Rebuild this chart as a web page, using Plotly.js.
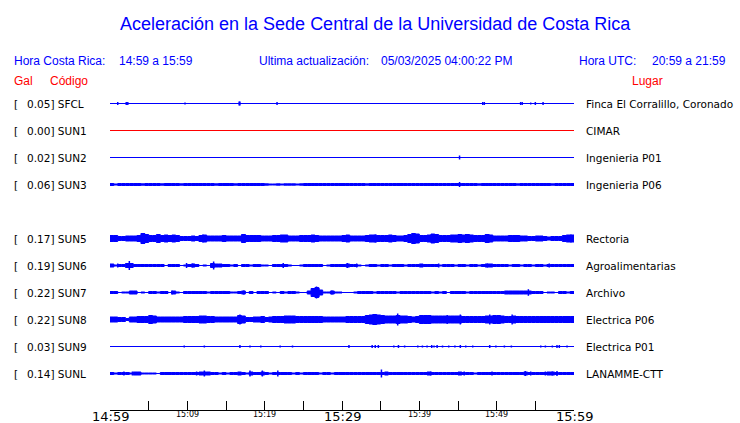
<!DOCTYPE html>
<html><head><meta charset="utf-8">
<script src="https://cdn.plot.ly/plotly-3.0.1.min.js"></script>
<style>html,body{margin:0;padding:0;background:#fff;} #chart{width:740px;height:423px;}</style>
</head><body><div id="chart"></div>
<script>
// ---------------- DATA ----------------
const codes = ['SFCL','SUN1','SUN2','SUN3','SUN5','SUN6','SUN7','SUN8','SUN9','SUNL'];
const galPeaks = [0.05,0.00,0.02,0.06,0.17,0.19,0.22,0.22,0.03,0.14];
const places = ['Finca El Corralillo, Coronado','CIMAR','Ingenieria P01','Ingenieria P06','Rectoria',
                'Agroalimentarias','Archivo','Electrica P06','Electrica P01','LANAMME-CTT'];
const windowMinutes = 60;          // 14:59 -> 15:59
const binMinutes = 0.5;            // envelope sampling step
const tickMinutes = [0,5,10,15,20,25,30,35,40,45,50,55,60];
const tickLabels = ['14:59','','15:09','','15:19','','15:29','','15:39','','15:49','','15:59'];
const headerTexts = ['Hora Costa Rica:','14:59 a 15:59','Ultima actualización:','05/03/2025 04:00:22 PM','Hora UTC:','20:59 a 21:59'];

// envelope half-amplitudes (relative units) per 0.5-minute bin; [] = quiet trace
const bandSFCL = [];
const bandSUN1 = [];
const bandSUN2 = [];
const bandSUN3 = [
 1,0.5,1,1,1,1,1,1,0.7,1, 1,1,1,0.7,1,1,1,1,0.7,1,
 1,1,1,1,1,1,1,0.7,1,1, 1,1,0.7,1,1,1,1,1,1,1,
 0.7,0.5,0.5,0.7,0.5,0.7,0.7,0.7,0.5,0.7, 1,1,1,1,1,1,1,1,1,1,
 1,1,1,1,1,1,0.7,1,1,1, 1,1,1,1,1,1,1,1,1,1,
 1,1,1,1,1,1,1,1,1,1, 1,1,1,1,1,0.7,1,1,1,1,
 1,1,1,1,1,0.7,1,1,1,1, 1,1,1,1,0.7,1,1,1,1,1];
const bandSUN5 = [
 3,3,2,2,2.5,2.5,2.5,3,5,4, 3,3,4,3,3.5,3,3.5,3,2,2,
 2,2.5,2,3,3.5,2.5,2.5,2.5,2.5,3, 2.5,2.5,2.5,2.5,4,3,3,3,3,2.5,
 2.5,2.5,3,3,3.5,3.5,2.5,2.5,2.5,3, 3,3,3.5,3,2.5,2.5,2.5,2.5,2.5,2.5,
 3,3.5,2.5,2.5,2.5,2.5,3,3.5,3.5,3, 3,3,3.5,3,2.5,2.5,3,4,5,4.5,
 3,3,3.5,4.5,4,3,3,3,3.5,3.5, 4,3.5,4,3.5,3,3,3,4,3.5,2.5,
 2.5,2.5,2.5,3,3,3,2.5,2.5,2,2, 2.5,2.5,2,1.5,2,2,2,3,3.5,3.5];
const bandSUN6 = [
 1.5,0.5,1,1,2,2,1,1,1,1, 1,1,1,1,0,1,1,1,0,0.5,
 1,1.5,1,0,0.5,0,2,1.5,1.5,1, 1,0.5,1,0,1,1,0.5,1,1,0.5,
 0.5,0,1,1,1,1,0.5,0,0,0.5, 1,1,1,1,1,0,0.5,1,1,1,
 1,1.5,1,1,0.5,0,0.5,1,1,0.5, 1,1,0.5,1,1,1,0.5,1,1,1,
 1.5,1,1,1,1,0.5,1,1,1,0.5, 1,1,0.5,1,1,0.5,1,1.5,1.5,1,
 1,1,1,0.5,1,1,0.5,1,1,0.5, 1,1,0.5,1,1,1,1,1,1,1];
const bandSUN7 = [
 1,1,0,0.5,0.5,1.5,1.5,0,0.5,0, 1,1,0.5,1,1,0,1.5,0.5,0,1,
 1,1,1,1,1,0.5,1,1,1,1, 1,0.5,0.5,1,1.5,0,1,0,1,1,
 1,0,0.5,0,1,0.5,1,1,0.5,0, 0,1.5,4,5,2.5,0.5,0.5,1.5,0.5,0.5,
 0,0,0,0.5,1,1,1,1,0.5,1, 1,1,1,1,0.5,1,1,1,1,1,
 1,1,1,0.5,1,0.5,1,0,1,1, 1,1,0.5,1,1,1,1,1,1,1,
 1,1,1.5,1.5,1.5,1.5,1.5,1.5,1.5,1, 1,1,0,0.5,0.5,0,1,1,0.5,1];
const bandSUN8 = [
 2.5,2.5,2,2,1,2.5,2.5,3,3,3, 4,3.5,2.5,2.5,2.5,2.5,2.5,2.5,2.5,3,
 3,3,3,3.5,3.5,3,3,2.5,2.5,2.5, 2.5,2.5,2.5,4,3.5,2,2,2.5,2.5,3,
 2,2.5,3,3,3,3.5,3.5,3.5,3,3, 3,3,3,3,3,2.5,2.5,2.5,2.5,2.5,
 2.5,3,3,3,3,3,4,4.5,5,4.5, 4,3.5,3.5,3.5,4,3.5,3.5,3,2.5,3,
 4,4,4,3.5,3.5,3.5,3.5,3.5,3.5,3.5, 3.5,3,3,3,3,3,3,3.5,3.5,4,
 4,3.5,3,3,3.5,3,3,3,3,3, 3,3,3,3,3,3,3,3,3,3];
const bandSUN9 = [];
const bandSUNL = [
 1,0.5,1,1,1,0.5,1.5,1.5,0.5,0.5, 0.5,0.5,0,1,1,1,1,1,1,1,
 1,1,1,1.5,1.5,1.5,1,1,0.5,1, 0.5,1,1,1.5,1,0.5,1.5,1,1,1.5,
 1,0.5,1,1,1,1,1,0.5,1,0.5, 1,1,1,1,0.5,1,1,0.5,1,1,
 1,1,1,1,1,1,1,1,1,1, 1,1.5,1,1,1,1,1,1,1,1,
 1,1,1.5,1,1,1,1,1,1,1, 1.5,1,1,1,0.5,1,1,1,1,1,
 1,1,1,1,1,1,1,1.5,1,1, 1,1,1,1.5,1.5,1,1,1,1,1];

// individual peaks: [minute after 14:59, half-amplitude]
const spikesSFCL = [[1.0,1.5],[2.1,1.5],[2.3,1.5],[9.7,1],[16.7,2],[16.8,2],[21.6,1.5],[48.2,1.5],[48.4,1.5],[53.1,1.5],[53.3,1.5],[54.4,1],[55.0,1.5],[56.0,1.5]];
const spikesSUN1 = [];
const spikesSUN2 = [[45.2,2]];
const spikesSUN3 = [[45.2,2.5]];
const spikesSUN5 = [[4.4,5.5],[6.2,4],[8.0,3.5],[12.0,4],[17.5,4],[22.6,3.5],[26.4,3.5],[30.7,3.5],[34.3,4],[36.1,3.5],[39.2,5],[39.8,4.5],[41.9,4.5],[46.0,4.5],[49.0,4],[59.6,4]];
const spikesSUN6 = [[1.0,2],[2.5,4.5],[9.9,2.5],[10.7,2],[13.4,4],[22.4,2.5],[30.7,2.5],[31.9,2],[42.5,2],[48.8,2],[56.8,2]];
const spikesSUN7 = [[2.7,1.5],[8.0,2],[17.3,2],[26.4,4.5],[26.7,6],[27.0,4.5],[28.7,2],[54.1,3.3]];
const spikesSUN8 = [[5.2,4.5],[16.8,5],[19.7,3.5],[34.0,5],[37.2,6],[43.6,4.5],[45.3,5],[49.1,5],[52.0,5],[59.0,3.5]];
const spikesSUN9 = [[9.6,1],[12.2,1],[16.8,1.5],[18.1,1],[19.5,1],[22.0,1],[23.6,1],[30.9,1.5],[33.9,1.5],[34.3,1.5],[34.7,1.5],[36.7,1],[37.3,1.5],[38.1,1],[39.8,1],[40.4,1],[41.0,1],[41.6,1.5],[41.9,1],[42.3,1.5],[43.0,1],[43.8,1],[44.6,1],[45.3,1.5],[46.0,1],[46.9,1],[49.1,1.5],[49.9,1],[51.0,1],[51.9,1],[55.7,1],[56.3,1],[57.2,1],[57.8,1.5],[58.1,1.5],[59.1,1]];
const spikesSUNL = [[1.8,2],[2.9,2],[11.2,2],[12.2,3],[18.1,3],[19.7,3],[21.7,3],[35.1,4],[41.5,2],[45.8,2],[49.4,2],[53.7,2.5],[54.4,2],[56.3,2],[57.2,2],[57.8,2.5]];

// ---------------- STYLE / LAYOUT CONSTANTS ----------------
const W = 740, H = 423;
const BLUE = '#0000FF', RED = '#FF0000';
const rowSlot = [0,1,2,3,5,6,7,8,9,10];   // row index (slot 4 is empty)
const ROW_TOP = 103.5, ROW_STEP = 27;       // pixel rows
const lineColors = [BLUE,RED,BLUE,BLUE,BLUE,BLUE,BLUE,BLUE,BLUE,BLUE];

const bands = [bandSFCL,bandSUN1,bandSUN2,bandSUN3,bandSUN5,bandSUN6,bandSUN7,bandSUN8,bandSUN9,bandSUNL];
const spikes = [spikesSFCL,spikesSUN1,spikesSUN2,spikesSUN3,spikesSUN5,spikesSUN6,spikesSUN7,spikesSUN8,spikesSUN9,spikesSUNL];

const traces = [];
codes.forEach((code, i) => {
  const c = ROW_TOP + ROW_STEP * rowSlot[i];
  const col = lineColors[i];
  const band = bands[i];
  // baseline
  traces.push({x: [0, windowMinutes], y: [c, c], type: 'scatter', mode: 'lines',
               line: {color: col, width: 1, simplify: false}, hoverinfo: 'skip'});
  if (band.length) {
    const xs = [], ys = [];
    band.forEach((a, k) => { const x0 = k*binMinutes, x1 = x0 + binMinutes; xs.push(x0, x1); ys.push(c - a, c - a); });
    for (let k = band.length - 1; k >= 0; k--) { const x0 = k*binMinutes, x1 = x0 + binMinutes; xs.push(x1, x0); ys.push(c + band[k], c + band[k]); }
    xs.push(xs[0]); ys.push(ys[0]);
    traces.push({x: xs, y: ys, type: 'scatter', mode: 'lines', fill: 'toself', fillcolor: col,
                 line: {color: col, width: 1, simplify: false}, hoverinfo: 'skip'});
  }
  if (spikes[i].length) {
    const sx = [], sy = [];
    spikes[i].forEach(([t, a]) => { sx.push(t, t, null); sy.push(c - a, c + a, null); });
    traces.push({x: sx, y: sy, type: 'scatter', mode: 'lines', line: {color: col, width: 1.5, simplify: false}, hoverinfo: 'skip'});
  }
});

function ann(text, xpx, ypx, size, color, family, xanchor) {
  return {xref: 'paper', x: xpx / W, yref: 'y', y: ypx, text: text, showarrow: false,
          xanchor: xanchor || 'left', yanchor: 'middle', borderpad: 0, borderwidth: 0,
          font: {size: size, color: color, family: family}};
}
const SANS = 'Liberation Sans, Arial, sans-serif';
const DV = 'DejaVu Sans, sans-serif';
const annotations = [];
annotations.push(ann('Aceleración en la Sede Central de la Universidad de Costa Rica', 375, 23.7, 18, BLUE, SANS, 'center'));
const headerX = [14, 119, 259, 381, 579, 652];
headerTexts.forEach((t, j) => annotations.push(ann(t, headerX[j], 61, 12, BLUE, SANS)));
annotations.push(ann('Gal', 14, 80.5, 12, RED, SANS));
annotations.push(ann('Código', 50, 80.5, 12, RED, SANS));
annotations.push(ann('Lugar', 632, 80.5, 12, RED, SANS));
codes.forEach((code, i) => {
  const c = ROW_TOP + ROW_STEP * rowSlot[i];
  annotations.push(ann('[', 14, c, 10.5, '#000', DV));
  annotations.push(ann(galPeaks[i].toFixed(2) + '] ' + code, 26.5, c, 10.5, '#000', DV));
  annotations.push(ann(places[i], 586, c, 10.5, '#000', DV));
});
const X0 = 110, X1 = 574;
tickMinutes.forEach((m, j) => {
  if (!tickLabels[j]) return;
  const major = m % 30 === 0;
  const px = X0 + (X1 - X0) * m / windowMinutes;
  annotations.push(ann(tickLabels[j], px, major ? 416.2 : 414.8, major ? 13 : 8, '#000', DV, 'center'));
});

const layout = {
  width: W, height: H, margin: {l: 0, r: 0, t: 0, b: 0},
  paper_bgcolor: '#fff', plot_bgcolor: '#fff', showlegend: false,
  xaxis: {domain: [X0 / W, X1 / W], range: [0, windowMinutes], anchor: 'free', position: (H - 409.5) / H,
          showline: true, linecolor: '#000', linewidth: 1, ticks: 'inside', ticklen: 9, tickwidth: 1,
          tickcolor: '#000', tickmode: 'array', tickvals: tickMinutes, showticklabels: false,
          showgrid: false, zeroline: false, fixedrange: true},
  yaxis: {domain: [0, 1], range: [H, 0], visible: false, fixedrange: true},
  annotations: annotations
};
Plotly.newPlot('chart', traces, layout, {staticPlot: true, displayModeBar: false});
</script></body></html>
